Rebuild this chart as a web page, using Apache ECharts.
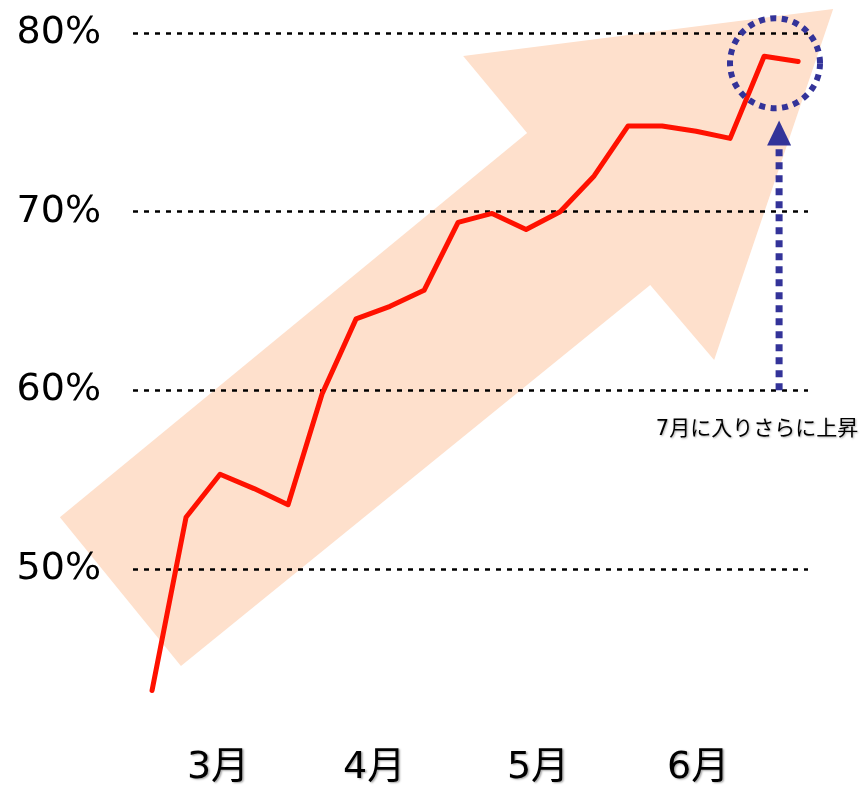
<!DOCTYPE html>
<html>
<head>
<meta charset="utf-8">
<script src="https://cdn.jsdelivr.net/npm/echarts@6/dist/echarts.min.js"></script>
<style>html,body{margin:0;padding:0;background:#fff}#c{width:863px;height:789px}</style>
</head>
<body>
<div id="c"></div>
<script>
// weekly share values (%), index 0..19
const values = [43.2, 52.9, 55.3, 54.5, 53.6, 59.8, 64.0, 64.7, 65.6, 69.4, 69.9, 69.0, 70.0, 72.0, 74.8, 74.8, 74.5, 74.1, 78.7, 78.4];
// month labels and their positions on the index axis
const monthLabels = ['3月', '4月', '5月', '6月'];
const monthPos = [1.94, 6.53, 11.35, 16.06];
const yTicks = [50, 60, 70, 80];
// decorative arrow outline, in data space [index, %]
const arrowShape = [[-2.71, 52.9], [0.85, 44.57], [14.65, 65.89], [16.53, 61.7], [20.03, 81.34], [9.15, 78.71], [11.03, 74.4]];
// annotation anchors in data space
const circleCenter = [18.32, 78.31];
const pointerFrom = [18.44, 60];
const pointerTo = [18.44, 75.1];
const noteText = '7月に入りさらに上昇';
const notePos = [17.79, 57.8];

const FONT = '"DejaVu Sans", Verdana, "Noto Sans CJK JP", sans-serif';
const shadow = {textShadowColor: 'rgba(0,0,0,0.35)', textShadowBlur: 2, textShadowOffsetX: 1.5, textShadowOffsetY: 1.5};
const BLUE = '#333399';

const chart = echarts.init(document.getElementById('c'));
chart.setOption({
  animation: false,
  backgroundColor: '#fff',
  grid: {left: 133, right: 55, top: 33, bottom: 41.33},
  xAxis: {
    type: 'value', min: -0.56, max: 19.29,
    splitLine: {show: false}, axisLine: {show: false}, axisTick: {show: false},
    axisLabel: {
      customValues: monthPos, margin: 1,
      fontFamily: FONT, fontSize: 38, color: '#000', ...shadow,
      formatter: v => { const i = monthPos.findIndex(p => Math.abs(p - v) < 1e-6); return i >= 0 ? monthLabels[i] : ''; }
    }
  },
  yAxis: {
    type: 'value', min: 40, max: 80, interval: 10,
    axisLine: {show: false}, axisTick: {show: false},
    axisLabel: {showMinLabel: false, margin: 32, fontFamily: FONT, fontSize: 38, color: '#000', formatter: v => yTicks.includes(v) ? v + '%' : ''},
    splitLine: {show: true, showMinLine: false, lineStyle: {color: '#000', width: 2.5, type: [5, 6]}}
  },
  series: [
    {
      type: 'custom', z: -1, silent: true, clip: false,
      data: [0],
      renderItem: (params, api) => ({
        type: 'polygon',
        shape: {points: arrowShape.map(p => api.coord(p))},
        style: {fill: '#FEE0CC'}
      })
    },
    {
      type: 'line', z: 3,
      data: values.map((v, i) => [i, v]),
      showSymbol: false, symbol: 'none',
      lineStyle: {color: '#FF1100', width: 5, cap: 'round', join: 'round'}
    },
    {
      type: 'custom', z: 4, silent: true, clip: false,
      data: [0],
      renderItem: (params, api) => {
        const c = api.coord(circleCenter);
        const a = api.coord(pointerFrom);
        const b = api.coord(pointerTo);
        const t = api.coord(notePos);
        return {
          type: 'group',
          children: [
            {type: 'circle', shape: {cx: c[0], cy: c[1], r: 45},
             style: {fill: 'none', stroke: BLUE, lineWidth: 6, lineDash: [6, 5.5]}},
            {type: 'line', shape: {x1: a[0], y1: a[1], x2: b[0], y2: b[1] + 24},
             style: {stroke: BLUE, lineWidth: 7, lineDash: [7, 6]}},
            {type: 'polygon', shape: {points: [[b[0], b[1]], [b[0] - 12, b[1] + 25], [b[0] + 12, b[1] + 25]]},
             style: {fill: BLUE}},
            {type: 'text', x: t[0], y: t[1],
             style: {text: noteText, fontFamily: FONT, fontSize: 21, fill: '#000', align: 'center', verticalAlign: 'middle',
                     textShadowColor: 'rgba(0,0,0,0.3)', textShadowBlur: 2, textShadowOffsetX: 1, textShadowOffsetY: 1}}
          ]
        };
      }
    }
  ]
});
</script>
</body>
</html>
